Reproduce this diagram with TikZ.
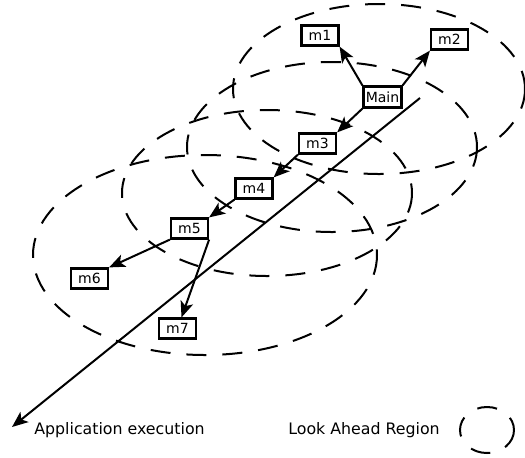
\documentclass[tikz,border=0pt]{standalone}
\usepackage{fontspec}
\setmainfont{DejaVu Sans}
\usetikzlibrary{arrows.meta}

\begin{document}
\begin{tikzpicture}[x = .5pt, y = -.5pt,
        msg/.style = {draw, line width = 1.1pt, minimum width = 18.5pt, minimum height = 10pt, inner sep = 0pt, font = \fontsize{7}{8}\selectfont},
        region/.style = {dash pattern = on 10pt off 8pt, line width = 1pt},
        call/.style = {line width = 1pt, -{Stealth[length = 8pt, width = 6.5pt, inset = 2pt]}},
        legend/.style = {font = \fontsize{7.9}{9}\selectfont}]
        \useasboundingbox (0, 0) rectangle (525, 457);
        % look ahead regions
        \draw[region] (379, 89) ellipse [x radius = 146, y radius = 85];
        \draw[region] (332, 147) ellipse [x radius = 145, y radius = 85];
        \draw[region] (267, 193) ellipse [x radius = 145, y radius = 83];
        \draw[region] (205, 255) ellipse [x radius = 172, y radius = 100];
        % methods
        \node[msg, minimum width = 19pt, minimum height = 10.5pt] (main) at (382.5, 97) {Main};
        \node[msg] (m1) at (320, 35.5) {m1};
        \node[msg] (m2) at (449.5, 39.5) {m2};
        \node[msg] (m3) at (317.5, 143.5) {m3};
        \node[msg] (m4) at (254, 188.5) {m4};
        \node[msg] (m5) at (189.5, 228.5) {m5};
        \node[msg] (m6) at (89.5, 278.5) {m6};
        \node[msg] (m7) at (177.5, 328.5) {m7};
        \draw[call] (main.north west) -- (m1.south east);
        \draw[call] (main.north east) -- (m2.south west);
        \draw[call] (main.south west) -- (m3.north east);
        \draw[call] (m3.south west) -- (m4.north east);
        \draw[call] (m4.south west) -- (m5.north east);
        \draw[call] (m5.south west) -- (m6.north east);
        \draw[call] (m5.south east) -- ([xshift = 2pt]m7.north);
        % execution axis
        \coordinate (exec top) at (420, 98);
        \coordinate (exec tip) at (12, 427);
        \draw[call] (exec top) -- (exec tip);
        \node[legend] (exec label) at (119.5, 430) {Application execution};
        \node[legend] (region label) at (364, 430) {Look Ahead Region};
        \draw[region] (487, 430) ellipse [x radius = 27, y radius = 23];
\end{tikzpicture}
\end{document}
